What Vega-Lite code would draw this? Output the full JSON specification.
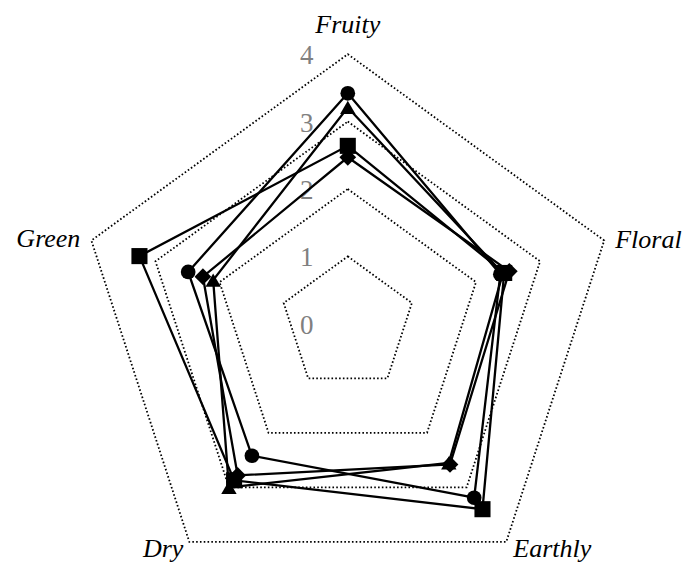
{
  "$schema": "https://vega.github.io/schema/vega-lite/v6.json",
  "width": 686,
  "height": 563,
  "padding": 0,
  "autosize": {"type": "none"},
  "background": "white",
  "config": {"view": {"stroke": null}},
  "datasets": {
    "axes": [
      {"axis": "Fruity", "idx": 0},
      {"axis": "Floral", "idx": 1},
      {"axis": "Earthly", "idx": 2},
      {"axis": "Dry", "idx": 3},
      {"axis": "Green", "idx": 4}
    ],
    "rings": [
      {"level": 1, "axis": "Fruity"}, {"level": 1, "axis": "Floral"}, {"level": 1, "axis": "Earthly"}, {"level": 1, "axis": "Dry"}, {"level": 1, "axis": "Green"},
      {"level": 2, "axis": "Fruity"}, {"level": 2, "axis": "Floral"}, {"level": 2, "axis": "Earthly"}, {"level": 2, "axis": "Dry"}, {"level": 2, "axis": "Green"},
      {"level": 3, "axis": "Fruity"}, {"level": 3, "axis": "Floral"}, {"level": 3, "axis": "Earthly"}, {"level": 3, "axis": "Dry"}, {"level": 3, "axis": "Green"},
      {"level": 4, "axis": "Fruity"}, {"level": 4, "axis": "Floral"}, {"level": 4, "axis": "Earthly"}, {"level": 4, "axis": "Dry"}, {"level": 4, "axis": "Green"}
    ],
    "ticks": [
      {"level": 0}, {"level": 1}, {"level": 2}, {"level": 3}, {"level": 4}
    ],
    "scores": [
      {"series": "A", "axis": "Fruity", "value": 3.42},
      {"series": "A", "axis": "Floral", "value": 2.38},
      {"series": "A", "axis": "Earthly", "value": 3.19},
      {"series": "A", "axis": "Dry", "value": 2.42},
      {"series": "A", "axis": "Green", "value": 2.49},
      {"series": "B", "axis": "Fruity", "value": 3.21},
      {"series": "B", "axis": "Floral", "value": 2.42},
      {"series": "B", "axis": "Earthly", "value": 2.55},
      {"series": "B", "axis": "Dry", "value": 3.0},
      {"series": "B", "axis": "Green", "value": 2.1},
      {"series": "C", "axis": "Fruity", "value": 2.64},
      {"series": "C", "axis": "Floral", "value": 2.44},
      {"series": "C", "axis": "Earthly", "value": 3.4},
      {"series": "C", "axis": "Dry", "value": 2.87},
      {"series": "C", "axis": "Green", "value": 3.25},
      {"series": "D", "axis": "Fruity", "value": 2.47},
      {"series": "D", "axis": "Floral", "value": 2.52},
      {"series": "D", "axis": "Earthly", "value": 2.58},
      {"series": "D", "axis": "Dry", "value": 2.78},
      {"series": "D", "axis": "Green", "value": 2.26}
    ]
  },
  "encoding": {
    "x": {"field": "px", "type": "quantitative", "scale": {"domain": [-5.16, 5.018], "nice": false, "zero": false}, "axis": null},
    "y": {"field": "py", "type": "quantitative", "scale": {"domain": [-3.549, 4.804], "nice": false, "zero": false}, "axis": null}
  },
  "layer": [
    {
      "data": {"name": "rings"},
      "transform": [
        {"lookup": "axis", "from": {"data": {"name": "axes"}, "key": "axis", "fields": ["idx"]}},
        {"calculate": "(90 - 72 * datum.idx) * PI / 180", "as": "angle"},
        {"calculate": "datum.level * cos(datum.angle)", "as": "px"},
        {"calculate": "datum.level * sin(datum.angle)", "as": "py"}
      ],
      "mark": {"type": "line", "interpolate": "linear-closed", "color": "black", "strokeWidth": 1.8, "strokeDash": [1.6, 2.2]},
      "encoding": {
        "detail": {"field": "level", "type": "nominal"},
        "order": {"field": "idx", "type": "quantitative"}
      }
    },
    {
      "data": {"name": "ticks"},
      "transform": [
        {"calculate": "0", "as": "px"},
        {"calculate": "datum.level", "as": "py"}
      ],
      "mark": {"type": "text", "font": "'Liberation Serif', serif", "fontSize": 27, "color": "#808080", "align": "center", "baseline": "middle", "dx": -41, "dy": 2},
      "encoding": {"text": {"field": "level", "type": "nominal"}}
    },
    {
      "data": {"name": "scores"},
      "transform": [
        {"lookup": "axis", "from": {"data": {"name": "axes"}, "key": "axis", "fields": ["idx"]}},
        {"calculate": "(90 - 72 * datum.idx) * PI / 180", "as": "angle"},
        {"calculate": "datum.value * cos(datum.angle)", "as": "px"},
        {"calculate": "datum.value * sin(datum.angle)", "as": "py"}
      ],
      "mark": {"type": "line", "interpolate": "linear-closed", "color": "black", "strokeWidth": 2.3},
      "encoding": {
        "detail": {"field": "series", "type": "nominal"},
        "order": {"field": "idx", "type": "quantitative"}
      }
    },
    {
      "data": {"name": "scores"},
      "transform": [
        {"lookup": "axis", "from": {"data": {"name": "axes"}, "key": "axis", "fields": ["idx"]}},
        {"calculate": "(90 - 72 * datum.idx) * PI / 180", "as": "angle"},
        {"calculate": "datum.value * cos(datum.angle)", "as": "px"},
        {"calculate": "datum.value * sin(datum.angle)", "as": "py"}
      ],
      "mark": {"type": "point", "filled": true, "opacity": 1, "color": "black"},
      "encoding": {
        "shape": {"field": "series", "type": "nominal", "scale": {"domain": ["A", "B", "C", "D"], "range": ["circle", "triangle-up", "square", "diamond"]}, "legend": null},
        "size": {"field": "series", "type": "nominal", "scale": {"domain": ["A", "B", "C", "D"], "range": [216, 280, 196, 340]}, "legend": null}
      }
    },
    {
      "data": {"name": "axes"},
      "transform": [
        {"filter": "datum.axis === 'Fruity'"},
        {"calculate": "(90 - 72 * datum.idx) * PI / 180", "as": "angle"},
        {"calculate": "4 * cos(datum.angle)", "as": "px"},
        {"calculate": "4 * sin(datum.angle)", "as": "py"}
      ],
      "mark": {"type": "text", "font": "'Liberation Serif', serif", "fontStyle": "italic", "fontSize": 26, "color": "black", "align": "center", "baseline": "alphabetic", "dy": -21},
      "encoding": {"text": {"field": "axis", "type": "nominal"}}
    },
    {
      "data": {"name": "axes"},
      "transform": [
        {"filter": "datum.axis === 'Floral'"},
        {"calculate": "(90 - 72 * datum.idx) * PI / 180", "as": "angle"},
        {"calculate": "4 * cos(datum.angle)", "as": "px"},
        {"calculate": "4 * sin(datum.angle)", "as": "py"}
      ],
      "mark": {"type": "text", "font": "'Liberation Serif', serif", "fontStyle": "italic", "fontSize": 26, "color": "black", "align": "left", "baseline": "alphabetic", "dx": 11, "dy": 7.5},
      "encoding": {"text": {"field": "axis", "type": "nominal"}}
    },
    {
      "data": {"name": "axes"},
      "transform": [
        {"filter": "datum.axis === 'Green'"},
        {"calculate": "(90 - 72 * datum.idx) * PI / 180", "as": "angle"},
        {"calculate": "4 * cos(datum.angle)", "as": "px"},
        {"calculate": "4 * sin(datum.angle)", "as": "py"}
      ],
      "mark": {"type": "text", "font": "'Liberation Serif', serif", "fontStyle": "italic", "fontSize": 26, "color": "black", "align": "right", "baseline": "alphabetic", "dx": -11, "dy": 6.5},
      "encoding": {"text": {"field": "axis", "type": "nominal"}}
    },
    {
      "data": {"name": "axes"},
      "transform": [
        {"filter": "datum.axis === 'Earthly'"},
        {"calculate": "(90 - 72 * datum.idx) * PI / 180", "as": "angle"},
        {"calculate": "4 * cos(datum.angle)", "as": "px"},
        {"calculate": "4 * sin(datum.angle)", "as": "py"}
      ],
      "mark": {"type": "text", "font": "'Liberation Serif', serif", "fontStyle": "italic", "fontSize": 26, "color": "black", "align": "left", "baseline": "alphabetic", "dx": 7, "dy": 15},
      "encoding": {"text": {"field": "axis", "type": "nominal"}}
    },
    {
      "data": {"name": "axes"},
      "transform": [
        {"filter": "datum.axis === 'Dry'"},
        {"calculate": "(90 - 72 * datum.idx) * PI / 180", "as": "angle"},
        {"calculate": "4 * cos(datum.angle)", "as": "px"},
        {"calculate": "4 * sin(datum.angle)", "as": "py"}
      ],
      "mark": {"type": "text", "font": "'Liberation Serif', serif", "fontStyle": "italic", "fontSize": 26, "color": "black", "align": "right", "baseline": "alphabetic", "dx": -6, "dy": 15},
      "encoding": {"text": {"field": "axis", "type": "nominal"}}
    }
  ]
}
